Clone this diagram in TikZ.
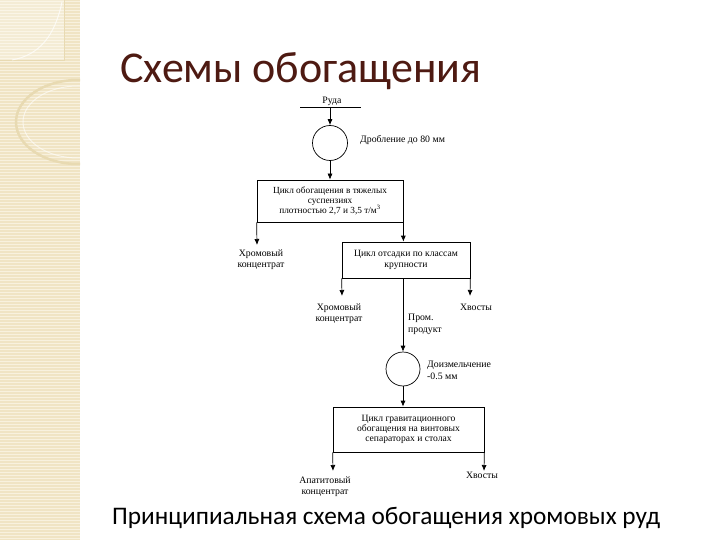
\documentclass[tikz,border=0pt]{standalone}
\usepackage{fontspec}
\setmainfont{Liberation Serif}
\newfontfamily\slidefont{Carlito}
\usetikzlibrary{arrows.meta}
\definecolor{stripbg}{HTML}{F0E4C4}
\definecolor{stripline}{HTML}{F8F1DE}
\definecolor{stripdeco}{HTML}{E8DAB2}
\definecolor{titlecol}{HTML}{4E1A12}
\tikzset{
  >={Latex[length=6pt,width=5pt]},
  flow/.style={line width=0.7pt,->},
  plain/.style={line width=0.7pt},
  procbox/.style={draw,line width=0.7pt,inner sep=0pt,align=center,font=\fontsize{9.6}{11}\selectfont},
  opcirc/.style={draw,circle,line width=0.7pt,inner sep=0pt},
  lbl/.style={inner sep=0pt,align=center,font=\fontsize{9.8}{10.5}\selectfont},
  lbll/.style={inner sep=0pt,align=left,font=\fontsize{9.8}{12}\selectfont},
}
\begin{document}
\begin{tikzpicture}[x=1pt,y=-1pt]
\useasboundingbox (0,0) rectangle (720,540);
\fill[white] (0,0) rectangle (720,540);
% decorative left strip
\fill[stripbg] (0,0) rectangle (80,540);
\foreach \yy in {1.5,4.5,...,540} {\draw[stripline,line width=0.8pt] (0,\yy) -- (80,\yy);}
\begin{scope}
\clip (0,0) rectangle (80,540);
\fill[white,opacity=0.3] (0,0) rectangle (64,60);
\draw[stripdeco,line width=0.6pt] (64,0) -- (64,60) -- (0,60);
\draw[white,line width=1pt,opacity=0.7] (62,2) .. controls (55,35) and (40,55) .. (12,60);
\draw[stripdeco,line width=2.5pt] (78,122) ellipse (62 and 42);
\draw[white,line width=1pt,opacity=0.6] (78,122) ellipse (55 and 36);
\end{scope}
% title
\node[anchor=base west,inner sep=0pt,text=titlecol,font=\slidefont\fontsize{44}{48}\selectfont] (title) at (120,83) {Схемы обогащения};
% ore feed
\coordinate (oreL) at (300,107);
\coordinate (oreR) at (361,107);
\draw[plain] (oreL) -- (oreR);
\node[lbl,anchor=base] (ore) at (332,104) {Руда};
\coordinate (oreM) at (330,107);
% crushing
\node[opcirc,minimum size=35pt] (c1) at (330,143) {};
\node[lbll,anchor=west] (c1t) at (360,140) {Дробление до 80 мм};
\draw[flow] (oreM) -- (c1.north);
% box 1
\node[procbox,minimum width=146pt,minimum height=42pt,font=\fontsize{9.3}{10.2}\selectfont] (b1) at (330,201) {Цикл обогащения в тяжелых\\суспензиях\\плотностью 2,7 и 3,5 т/м\textsuperscript{3}};
\draw[flow] (c1.south) -- (b1.north);
\node[lbl,anchor=north] (cc1) at (261,250) {Хромовый\\концентрат};
\coordinate (cc1a) at (257,245);
\draw[flow] (b1.south west) -- (cc1a);
% box 2
\node[procbox,minimum width=128pt,minimum height=36pt] (b2) at (406,260) {Цикл отсадки по классам\\крупности};
\draw[flow] (b1.south east) -- (b1.south east |- b2.north);
\coordinate (cc2a) at (342,296);
\coordinate (t1a) at (470,296);
\draw[flow] (b2.south west) -- (cc2a);
\draw[flow] (b2.south east) -- (t1a);
\node[lbl,anchor=north] (cc2) at (339,304) {Хромовый\\концентрат};
\node[lbl,anchor=north] (t1) at (476,304) {Хвосты};
\node[lbll,anchor=north west] (mid) at (408,314) {Пром.\\продукт};
% regrinding
\node[opcirc,minimum size=34pt] (c2) at (403,369) {};
\draw[flow] (b2.south -| c2.north) -- (c2.north);
\node[lbll,anchor=west] (c2t) at (427,370) {Доизмельчение\\-0.5 мм};
% box 3
\node[procbox,minimum width=151pt,minimum height=45pt] (b3) at (408.5,429.5) {\raisebox{1pt}{\begin{tabular}{@{}c@{}}Цикл гравитационного\\[-1pt]обогащения на винтовых\\[-1pt]сепараторах и столах\end{tabular}}};
\draw[flow] (c2.south) -- (c2.south |- b3.north);
\coordinate (apa) at (333,471);
\coordinate (t2a) at (484,471);
\draw[flow] (b3.south west) -- (apa);
\draw[flow] (b3.south east) -- (t2a);
\node[lbl,anchor=north] (ap) at (325,477) {Апатитовый\\концентрат};
\node[lbl,anchor=north] (t2) at (482,472) {Хвосты};
% caption
\node[anchor=base west,inner sep=0pt,font=\slidefont\fontsize{25.3}{28}\selectfont] (cap) at (112,524) {Принципиальная схема обогащения хромовых руд};
\end{tikzpicture}
\end{document}
